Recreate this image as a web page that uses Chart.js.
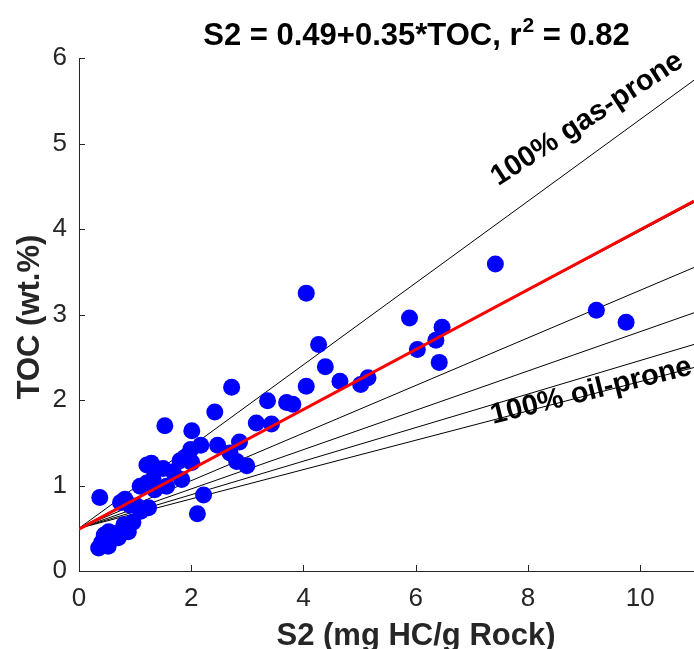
<!DOCTYPE html>
<html>
<head>
<meta charset="utf-8">
<title>S2 vs TOC</title>
<script src="https://cdn.jsdelivr.net/npm/chart.js@4.4.1/dist/chart.umd.min.js"></script>
<style>
    html, body { margin: 0; padding: 0; background: #fff; overflow: hidden; }
    #wrap { position: relative; width: 694px; height: 649px; }
</style>
</head>
<body>
<div id="wrap"><canvas id="chart"></canvas></div>
<script>
'use strict';

// samples: S2 (mg HC/g rock) and TOC (wt.%)
var s2 = [0.37, 0.35, 0.52, 0.40, 0.45, 0.53, 0.62, 0.70, 0.80, 0.88,
          0.96, 0.82, 0.74, 0.91, 1.03, 1.10, 1.24, 1.09, 1.21, 1.32,
          1.35, 1.56, 1.50, 1.21, 1.29, 1.68, 1.83, 1.80, 1.89, 1.99,
          2.01, 2.17, 2.01, 1.53, 2.22, 2.11, 2.42, 2.47, 2.72, 2.69,
          2.81, 2.99, 2.86, 3.16, 3.43, 3.36, 3.70, 3.81, 4.05, 4.05,
          4.27, 4.39, 4.65, 5.02, 5.15, 5.89, 6.03, 6.36, 6.47, 6.42,
          7.42, 9.22, 9.75];
var toc = [0.86, 0.27, 0.29, 0.33, 0.42, 0.46, 0.44, 0.39, 0.54, 0.46,
           0.57, 0.84, 0.80, 0.77, 0.76, 0.70, 0.74, 0.99, 1.03, 1.08,
           0.95, 0.99, 1.20, 1.24, 1.26, 1.16, 1.07, 1.29, 1.33, 1.42,
           1.27, 1.47, 1.64, 1.70, 0.89, 0.67, 1.86, 1.47, 2.15, 1.38,
           1.28, 1.23, 1.51, 1.73, 1.72, 1.99, 1.97, 1.95, 2.16, 3.25,
           2.65, 2.39, 2.22, 2.18, 2.26, 2.96, 2.59, 2.70, 2.85, 2.44,
           3.59, 3.05, 2.91];

// regression S2 = 0.49 + 0.35*TOC
var fitIntercept = 0.49;
var fitSlope = 0.35;

// kerogen mixing lines (gas-prone -> oil-prone), all start at TOC 0.5
var mixOriginTOC = 0.5;
var mixEndTOC = [5.74, 4.31, 3.55, 3.02, 2.65, 2.38];

var xMax = 10.96;
var yMax = 6;
var tickStep = { x: 2, y: 1 };

var FONT = '"Liberation Sans", Arial, Helvetica, sans-serif';
var AXIS = '#262626';

var points = s2.map(function (v, i) { return { x: v, y: toc[i] }; });

var datasets = [{
    type: 'line',
    label: 'fit',
    data: [{ x: 0, y: fitIntercept }, { x: xMax, y: fitIntercept + fitSlope * xMax }],
    borderColor: '#ff0000',
    borderWidth: 3,
    pointRadius: 0,
    order: 0
}, {
    type: 'scatter',
    label: 'samples',
    data: points,
    backgroundColor: '#0000ff',
    borderColor: '#0000ff',
    borderWidth: 0,
    pointRadius: 8.5,
    clip: false,
    order: 1
}];

mixEndTOC.forEach(function (end, i) {
    datasets.push({
        type: 'line',
        label: 'mix' + i,
        data: [{ x: 0, y: mixOriginTOC }, { x: xMax, y: end }],
        borderColor: '#000000',
        borderWidth: 1,
        pointRadius: 0,
        order: 2
    });
});

// inward tick marks, titles and the two rotated labels
var decorations = {
    id: 'decorations',
    afterDraw: function (chart) {
        var ctx = chart.ctx;
        var area = chart.chartArea;
        var xs = chart.scales.x, ys = chart.scales.y;
        ctx.save();
        ctx.strokeStyle = AXIS;
        ctx.lineWidth = 1;
        ctx.beginPath();
        xs.ticks.forEach(function (t) {
            var px = Math.round(xs.getPixelForValue(t.value)) + 0.5;
            ctx.moveTo(px, area.bottom);
            ctx.lineTo(px, area.bottom - 6);
        });
        ys.ticks.forEach(function (t) {
            var py = Math.round(ys.getPixelForValue(t.value)) + 0.5;
            ctx.moveTo(area.left, py);
            ctx.lineTo(area.left + 6, py);
        });
        ctx.stroke();

        ctx.textBaseline = 'alphabetic';
        ctx.fillStyle = '#000';
        ctx.font = 'bold 31px ' + FONT;
        var head = 'S2 = 0.49+0.35*TOC, r';
        var tail = ' = 0.82';
        var wHead = ctx.measureText(head).width;
        var wTail = ctx.measureText(tail).width;
        ctx.font = 'bold 21px ' + FONT;
        var wSup = ctx.measureText('2').width;
        var startX = 416 - (wHead + wSup + wTail) / 2;
        ctx.textAlign = 'left';
        ctx.font = 'bold 31px ' + FONT;
        ctx.fillText(head, startX, 45);
        ctx.font = 'bold 21px ' + FONT;
        ctx.fillText('2', startX + wHead + 1, 32);
        ctx.font = 'bold 31px ' + FONT;
        ctx.fillText(tail, startX + wHead + wSup + 1, 45);

        ctx.fillStyle = AXIS;
        ctx.textAlign = 'center';
        ctx.fillText('S2 (mg HC/g Rock)', 416, 645);
        ctx.save();
        ctx.translate(39, 317);
        ctx.rotate(-Math.PI / 2);
        ctx.fillText('TOC (wt.%)', 0, 0);
        ctx.restore();

        ctx.fillStyle = '#000';
        ctx.textAlign = 'left';
        ctx.font = 'bold 29px ' + FONT;
        ctx.save();
        ctx.translate(xs.getPixelForValue(7.47), ys.getPixelForValue(4.5));
        ctx.rotate(-33 * Math.PI / 180);
        ctx.fillText('100% gas-prone', 0, 0);
        ctx.restore();
        ctx.save();
        ctx.translate(xs.getPixelForValue(7.38), ys.getPixelForValue(1.72));
        ctx.rotate(-14 * Math.PI / 180);
        ctx.fillText('100% oil-prone', 0, 0);
        ctx.restore();
        ctx.restore();
    }
};

var chart = new Chart(document.getElementById('chart').getContext('2d'), {
    type: 'scatter',
    data: { datasets: datasets },
    options: {
        responsive: true,
        maintainAspectRatio: false,
        animation: false,
        devicePixelRatio: 1,
        layout: { autoPadding: false, padding: { top: 58, right: 0, left: 0, bottom: 0 } },
        plugins: { legend: { display: false }, tooltip: { enabled: false }, title: { display: false } },
        scales: {
            x: {
                type: 'linear',
                min: 0,
                max: xMax,
                grid: { display: false, drawTicks: false },
                border: { display: true, color: AXIS, width: 1 },
                ticks: { stepSize: tickStep.x, includeBounds: false, padding: 12, color: AXIS, maxRotation: 0,
                         font: { family: FONT, size: 26 } },
                afterFit: function (scale) {
                    scale.height = 78;
                    scale.paddingLeft = 0;
                    scale.paddingRight = 0;
                }
            },
            y: {
                type: 'linear',
                min: 0,
                max: yMax,
                grid: { display: false, drawTicks: false },
                border: { display: true, color: AXIS, width: 1 },
                ticks: { stepSize: tickStep.y, padding: 12, color: AXIS, font: { family: FONT, size: 26 } },
                afterFit: function (scale) {
                    scale.width = 79;
                    scale.paddingTop = 0;
                    scale.paddingBottom = 0;
                }
            }
        }
    },
    plugins: [decorations]
});
</script>
</body>
</html>
